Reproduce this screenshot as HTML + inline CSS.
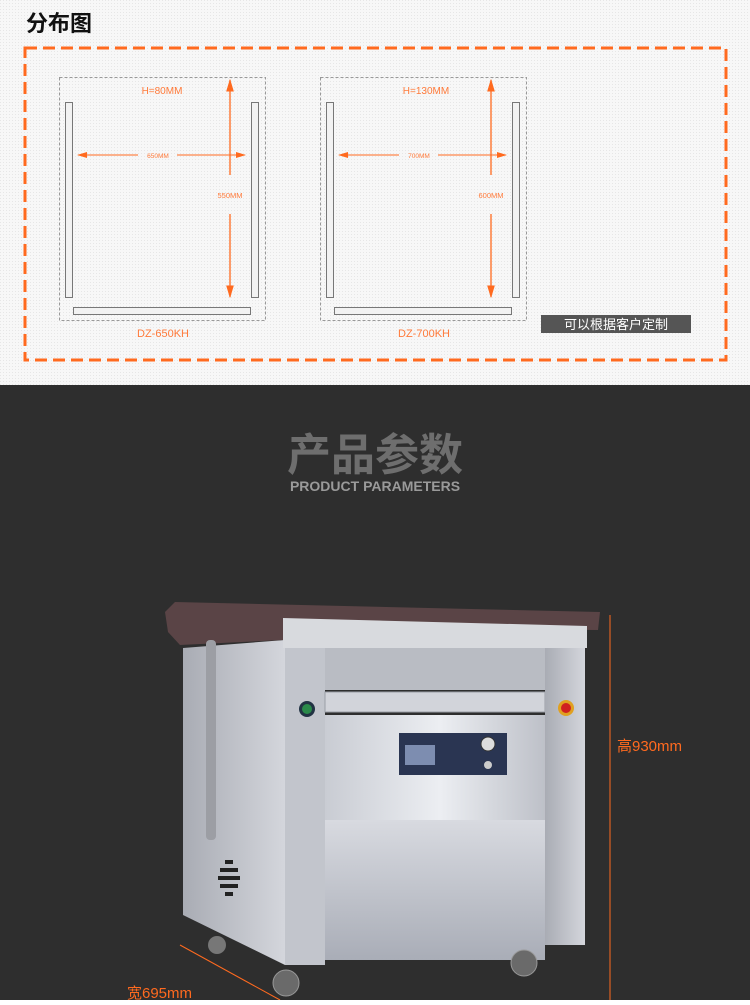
<!DOCTYPE html>
<html><head><meta charset="utf-8"><style>
body{margin:0;width:750px;height:1000px;overflow:hidden;font-family:"Liberation Sans","Noto Sans CJK SC",sans-serif}
</style></head><body>
<svg width="750" height="1000" xmlns="http://www.w3.org/2000/svg" font-family="Liberation Sans, Noto Sans CJK SC, sans-serif">
<defs>
<pattern id="dots" width="3" height="3" patternUnits="userSpaceOnUse"><rect width="3" height="3" fill="#f7f7f7"/><rect width="1" height="1" fill="#e6e6e6"/></pattern>
<linearGradient id="front" x1="0" y1="0" x2="1" y2="0"><stop offset="0" stop-color="#c9ccd3"/><stop offset=".5" stop-color="#eceef2"/><stop offset="1" stop-color="#b9bcc4"/></linearGradient>
<linearGradient id="side" x1="0" y1="0" x2="1" y2="0"><stop offset="0" stop-color="#a9acb4"/><stop offset="1" stop-color="#d4d6dc"/></linearGradient>
<linearGradient id="lower" x1="0" y1="0" x2="0" y2="1"><stop offset="0" stop-color="#d8dae0"/><stop offset="1" stop-color="#a9adb7"/></linearGradient>
<marker id="ah" markerWidth="10" markerHeight="6" refX="9" refY="3" orient="auto"><path d="M0,0 L10,3 L0,6 z" fill="#ff6a1f"/></marker>
</defs>
<rect width="750" height="385" fill="url(#dots)"/>
<text x="26" y="31" font-size="22" font-weight="bold" fill="#111">分布图</text>
<rect x="25" y="48" width="701" height="312" fill="none" stroke="#ff6a1f" stroke-width="3" stroke-dasharray="12,6"/>
<g id="d1">
<rect x="59.5" y="77.5" width="206" height="243" fill="none" stroke="#999" stroke-dasharray="3,2"/>
<rect x="65.5" y="102.5" width="7" height="195" fill="#f2f2f2" stroke="#777"/>
<rect x="251.5" y="102.5" width="7" height="195" fill="#f2f2f2" stroke="#777"/>
<rect x="73.5" y="307.5" width="177" height="7" fill="#f2f2f2" stroke="#777"/>
<line x1="138" y1="155" x2="78" y2="155" stroke="#ff6a1f" marker-end="url(#ah)"/>
<line x1="177" y1="155" x2="245" y2="155" stroke="#ff6a1f" marker-end="url(#ah)"/>
<line x1="230" y1="175" x2="230" y2="80" stroke="#ff6a1f" stroke-width="1.3" marker-end="url(#ah)"/>
<line x1="230" y1="214" x2="230" y2="297" stroke="#ff6a1f" stroke-width="1.3" marker-end="url(#ah)"/>
</g>
<text x="162" y="94" font-size="10" fill="#ff7a3a" text-anchor="middle">H=80MM</text>
<text x="158" y="158" font-size="6.5" fill="#ff7a3a" text-anchor="middle">650MM</text>
<text x="230" y="198" font-size="7.5" fill="#ff7a3a" text-anchor="middle">550MM</text>
<text x="163" y="337" font-size="11" fill="#ff7a3a" text-anchor="middle">DZ-650KH</text>
<use href="#d1" x="261"/>
<text x="426" y="94" font-size="10" fill="#ff7a3a" text-anchor="middle">H=130MM</text>
<text x="419" y="158" font-size="6.5" fill="#ff7a3a" text-anchor="middle">700MM</text>
<text x="491" y="198" font-size="7.5" fill="#ff7a3a" text-anchor="middle">600MM</text>
<text x="424" y="337" font-size="11" fill="#ff7a3a" text-anchor="middle">DZ-700KH</text>
<rect x="541" y="315" width="150" height="18" fill="#555"/>
<text x="616" y="329" font-size="13" fill="#fff" text-anchor="middle">可以根据客户定制</text>

<rect y="385" width="750" height="615" fill="#2e2e2e"/>
<text x="375" y="470" font-size="44" font-weight="bold" fill="#6e6e6e" text-anchor="middle">产品参数</text>
<text x="375" y="491" font-size="14" font-weight="bold" fill="#9a9a9a" text-anchor="middle">PRODUCT PARAMETERS</text>

<!-- machine -->
<polygon points="183,648 285,640 285,965 183,915" fill="url(#side)"/>
<rect x="285" y="640" width="40" height="325" fill="#c2c5cc"/>
<rect x="325" y="645" width="220" height="45" fill="#b9bcc3"/>
<rect x="325" y="692" width="220" height="20" fill="#d2d4da" stroke="#9a9ea6"/>
<polygon points="325,715 545,715 555,780 545,820 325,820" fill="url(#front)"/>
<rect x="325" y="820" width="220" height="140" fill="url(#lower)"/>
<rect x="545" y="645" width="40" height="300" fill="url(#side)"/>
<polygon points="165,612 175,602 600,612 598,630 283,628 283,640 180,645 168,632" fill="#5a4446"/>
<polygon points="283,618 587,626 587,648 283,648" fill="#d8dade"/>
<rect x="399" y="733" width="108" height="42" fill="#2a3552"/>
<rect x="405" y="745" width="30" height="20" fill="#7d8db0"/>
<circle cx="488" cy="744" r="7" fill="#ddd" stroke="#333"/>
<circle cx="488" cy="765" r="4" fill="#ccc"/>
<circle cx="307" cy="709" r="8" fill="#234"/><circle cx="307" cy="709" r="5" fill="#2a8a4a"/>
<circle cx="566" cy="708" r="8" fill="#e0a020"/><circle cx="566" cy="708" r="5" fill="#d02020"/>
<rect x="206" y="640" width="10" height="200" rx="4" fill="#9c9ea4"/>
<g fill="#222"><rect x="225" y="860" width="8" height="4"/><rect x="220" y="868" width="18" height="4"/><rect x="218" y="876" width="22" height="4"/><rect x="220" y="884" width="18" height="4"/><rect x="225" y="892" width="8" height="4"/></g>
<circle cx="217" cy="945" r="9" fill="#777"/>
<circle cx="286" cy="983" r="13" fill="#6a6a6a" stroke="#999"/>
<circle cx="524" cy="963" r="13" fill="#6a6a6a" stroke="#999"/>
<line x1="610" y1="615" x2="610" y2="1000" stroke="#ff6a1f"/>
<line x1="180" y1="945" x2="280" y2="1000" stroke="#ff6a1f"/>
<text x="617" y="751" font-size="15" fill="#ff6a1f">高930mm</text>
<text x="127" y="998" font-size="15" fill="#ff6a1f">宽695mm</text>
</svg>
</body></html>
